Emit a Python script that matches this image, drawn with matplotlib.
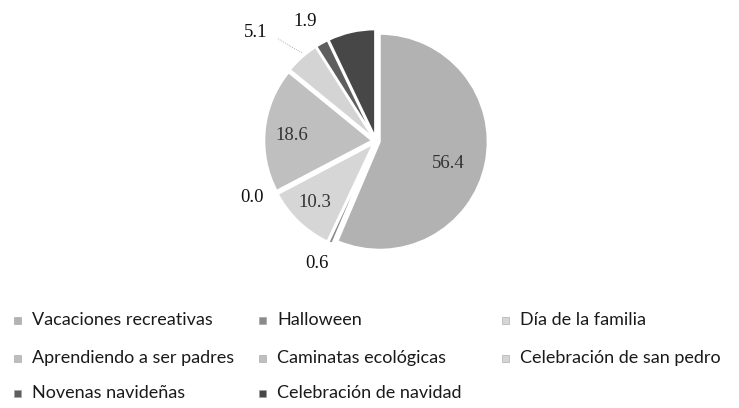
import numpy as np
import matplotlib
matplotlib.use("Agg")
import matplotlib.pyplot as plt
from matplotlib.patches import Rectangle

plt.rcParams['font.family'] = ['Lato', 'DejaVu Sans']

actividades = ["Vacaciones recreativas", "Halloween", "Día de la familia",
               "Aprendiendo a ser padres", "Caminatas ecológicas",
               "Celebración de san pedro", "Novenas navideñas",
               "Celebración de navidad"]
porcentajes = [56.4, 0.6, 10.3, 0.0, 18.6, 5.1, 1.9, 7.1]
etiquetas = ["56.4", "0.6", "10.3", "0.0", "18.6", "5.1", "1.9", None]

colores = ["#b2b2b2", "#8a8a8a", "#d6d6d6", "#bdbdbd", "#bfbfbf",
           "#d4d4d4", "#5e5e5e", "#474747"]

W, H = 739, 408
fig = plt.figure(figsize=(W / 100, H / 100), dpi=100)

# one data unit = pie radius in pixels, pie centre at (cx, cy) from the top-left
cx, cy, R = 376, 141, 108
ax = fig.add_axes([0, 0, 1, 1])
wedges, _ = ax.pie(porcentajes, colors=colores, startangle=90, counterclock=False,
                   explode=[0.035] * len(porcentajes),
                   wedgeprops=dict(edgecolor="white", linewidth=1.5))
ax.set_xlim(-cx / R, (W - cx) / R)
ax.set_ylim(-(H - cy) / R, cy / R)
ax.axis("off")

# label placement: (distance from centre, angular shift in degrees)
pos_etiqueta = {0: (0.70, -5.5), 1: (1.255, -1.7), 2: (0.80, -1.3), 3: (1.26, -3),
                4: (0.78, 1.7), 5: (1.50, 6.6), 6: (1.29, 1.6)}
fuera = {1, 3, 5, 6}

for i, w in enumerate(wedges):
    if etiquetas[i] is None:
        continue
    ang = (w.theta1 + w.theta2) / 2
    dist, shift = pos_etiqueta[i]
    a2 = np.deg2rad(ang + shift)
    x, y = dist * np.cos(a2), dist * np.sin(a2)
    color = "#111111" if i in fuera else "#333333"
    ax.text(x, y, etiquetas[i], ha="center", va="center",
            fontsize=13.5, color=color, family=["Liberation Serif"])

# leader line for the san pedro slice
w = wedges[5]
ang = np.deg2rad((w.theta1 + w.theta2) / 2 - 1.5)
a_out = np.deg2rad((w.theta1 + w.theta2) / 2 + 2.3)
ax.plot([1.065 * np.cos(ang), 1.32 * np.cos(a_out)],
        [1.065 * np.sin(ang), 1.32 * np.sin(a_out)],
        color="#999999", lw=0.6, ls=(0, (1, 1.5)))

# legend in three columns, filled row by row
col_x = [17, 262, 505]
row_y = [320, 358, 393]
for k, nombre in enumerate(actividades):
    fila, col = divmod(k, 3)
    mx, my = col_x[col], row_y[fila]
    fig.patches.append(Rectangle(((mx - 3.5) / W, (H - my - 3.5) / H), 7 / W, 7 / H,
                                 transform=fig.transFigure, facecolor=colores[k],
                                 edgecolor="#a0a0a0", linewidth=0.4))
    fig.text((mx + 15) / W, (H - my) / H, nombre, ha="left", va="center",
             fontsize=13, color="#1a1a1a")

fig.savefig("out.png", dpi=100)
